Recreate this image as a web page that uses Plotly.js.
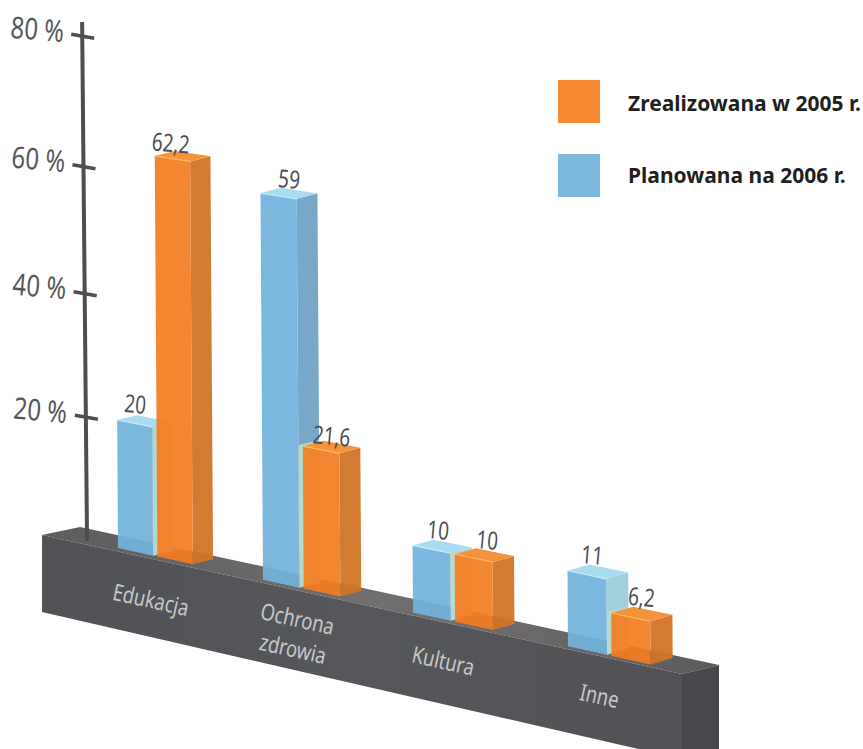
<!DOCTYPE html>
<html><head><meta charset="utf-8">
<script src="https://cdn.plot.ly/plotly-3.0.1.min.js"></script>
<style>html,body{margin:0;padding:0;background:#fff}#c{width:863px;height:749px}</style>
</head><body><div id="c"></div>
<script>
// ---- data ----
const categories = ['Edukacja', 'Ochrona<br>zdrowia', 'Kultura', 'Inne'];
const planned2006 = [20, 59, 10, 11];
const realized2005 = [62.2, 21.6, 10, 6.2];
const plannedLabels = ['20', '59', '10', '11'];
const realizedLabels = ['62,2', '21,6', '10', '6,2'];
const axisTicks = [20, 40, 60, 80];
const axisTickLabels = ['20 %', '40 %', '60 %', '80 %'];
const seriesNames = ['Zrealizowana w 2005 r.', 'Planowana na 2006 r.'];

// ---- perspective projection of the drawing ----
const BAR_WIDTH = 0.245, SERIES_STEP = 0.275;
const posX = t => 118 + 145 * t + 2.5 * t * (t - 1);
const groundY = x => 548 + 0.2186 * (x - 118);
const unitH = x => 6.4 + 0.00105 * (x - 118);
function project(t, depth, v) {
  const x = posX(t), y = groundY(x), h = v * unitH(x);
  return [x + (19.5 + 0.004 * x) * depth - 0.0065 * h, y - (4.5 + 0.003 * x) * depth - h];
}
function polys(list) {           // list of point-lists -> x/y with gaps
  const xs = [], ys = [];
  list.forEach(p => { p.concat([p[0]]).forEach(q => { xs.push(q[0]); ys.push(q[1]); }); xs.push(null); ys.push(null); });
  return { x: xs, y: ys };
}
const fillTrace = (list, color) => Object.assign(polys(list), { type: 'scatter', mode: 'lines', fill: 'toself', fillcolor: color, line: { width: 0, color: color }, hoverinfo: 'skip', showlegend: false });
const lineTrace = (pts, color, w) => ({ type: 'scatter', mode: 'lines', x: pts.map(p => p[0]), y: pts.map(p => p[1]), line: { color: color, width: w }, hoverinfo: 'skip', showlegend: false });
const front = (t, v) => [project(t, 0, 0), project(t + BAR_WIDTH, 0, 0), project(t + BAR_WIDTH, 0, v), project(t, 0, v)];
const side = (t, v) => [project(t + BAR_WIDTH, 0, 0), project(t + BAR_WIDTH, 1, 0), project(t + BAR_WIDTH, 1, v), project(t + BAR_WIDTH, 0, v)];
const top_ = (t, v) => [project(t, 0, v), project(t + BAR_WIDTH, 0, v), project(t + BAR_WIDTH, 1, v), project(t, 1, v)];

const traces = [];
// platform
const FL = [42, 535], FR = [682, 674], BR = [719, 665], BL = [80, 527], FB = [682, 759], LB = [42, 612], RB = [719, 751];
const gradient = stops => ({ type: 'horizontal', colorscale: stops });
traces.push(Object.assign(fillTrace([[FL, BL, BR, FR]], '#69696a'), { fillgradient: gradient([[0, '#5d5d5e'], [0.5, '#716f6e'], [0.85, '#666565'], [1, '#5a5a5c']]) }));
traces.push(Object.assign(fillTrace([[FL, FR, FB, LB]], '#535457'), { fillgradient: gradient([[0, '#515255'], [0.5, '#56575a'], [1, '#515255']]) }));
traces.push(fillTrace([[FR, BR, RB, FB]], '#47484b'));

// value axis
const tickY = v => 537 - (5.9 * v + 0.0045 * v * v);
const axisX = y => 87 - 0.0095 * (537 - y);
traces.push(lineTrace([[axisX(541), 541], [axisX(22), 22]], '#4c4e52', 4));
axisTicks.forEach(v => { const y = tickY(v), x = axisX(y); traces.push(lineTrace([[x - 11, y - 2], [x + 12, y + 2]], '#4c4e52', 3.5)); });

// bars
const idx = categories.map((_, i) => i);
const blueT = i => i, orangeT = i => i + SERIES_STEP;
const blueSideColors = ['rgba(112,163,198,0.95)', 'rgba(112,163,198,0.95)', 'rgba(150,200,215,0.95)', 'rgba(158,203,220,0.95)'];
idx.forEach(i => traces.push(fillTrace([side(blueT(i), planned2006[i])], blueSideColors[i])));
traces.push(fillTrace(idx.map(i => side(blueT(i), Math.min(planned2006[i], realized2005[i]))), 'rgba(182,218,205,0.95)'));
traces.push(fillTrace(idx.map(i => top_(blueT(i), planned2006[i])), '#aadcf1'));
traces.push(Object.assign(fillTrace(idx.map(i => front(blueT(i), planned2006[i])), 'rgba(114,179,220,0.93)'), { name: seriesNames[1] }));
idx.forEach(i => traces.push(lineTrace([project(blueT(i), 0, planned2006[i]), project(blueT(i) + BAR_WIDTH, 0, planned2006[i])], '#c4ecfa', 1.2)));
traces.push(fillTrace(idx.map(i => side(orangeT(i), realized2005[i])), 'rgba(209,116,38,0.95)'));
traces.push(fillTrace(idx.map(i => top_(orangeT(i), realized2005[i])), '#f5923a'));
traces.push(Object.assign(fillTrace(idx.map(i => front(orangeT(i), realized2005[i])), 'rgba(244,125,33,0.93)'), { name: seriesNames[0] }));
idx.forEach(i => traces.push(lineTrace([project(orangeT(i), 0, realized2005[i]), project(orangeT(i) + BAR_WIDTH, 0, realized2005[i])], '#fdb95f', 1.2)));

// annotations
const BODY = '"Noto Sans",sans-serif';
const squeezes = [];
const annotations = [];
function note(x, y, text, size, color, angle, squeeze) {
  annotations.push({ x: x, y: y, xref: 'x', yref: 'y', text: text, showarrow: false, xanchor: 'center', yanchor: 'middle', textangle: angle, font: { family: BODY, size: size, color: color } });
  squeezes.push(squeeze);
}
axisTicks.forEach((v, i) => { const y = tickY(v); note(axisX(y) - 45, y - 8, axisTickLabels[i], 30, '#55575b', 5, 0.8); });
const blueOff = [[-2, -12], [8, -10], [5, -11], [3, -11]];
const orangeOff = [[-4, -9], [8, -6], [11, -9], [8, -11]];
idx.forEach(i => {
  let a = project(blueT(i), 1, planned2006[i]);
  note(a[0] + blueOff[i][0], a[1] + blueOff[i][1], plannedLabels[i], 25, '#4d4f53', 5, 0.76);
  a = project(orangeT(i), 1, realized2005[i]);
  note(a[0] + orangeOff[i][0], a[1] + orangeOff[i][1], realizedLabels[i], 25, '#4d4f53', 5, 0.76);
});
const catPos = [[151, 599], [297, 618], [443, 660], [599, 695]];
idx.forEach(i => categories[i].split('<br>').forEach((line, j) => note(catPos[i][0] - 4 * j, catPos[i][1] + 30 * j, line, 23, '#c6c7c9', 12.5, 0.8)));
const legendFont = { family: BODY, size: 21, color: '#231f20' };
[103, 175].forEach((y, i) => {
  annotations.push({ x: 626, y: y, xref: 'x', yref: 'y', text: '<b>' + seriesNames[i] + '</b>', showarrow: false, xanchor: 'left', yanchor: 'middle', font: legendFont });
  squeezes.push(1);
});

const shapes = [
  { type: 'rect', xref: 'x', yref: 'y', x0: 558, x1: 600, y0: 80, y1: 123, fillcolor: '#f68832', line: { width: 0 } },
  { type: 'rect', xref: 'x', yref: 'y', x0: 558, x1: 600, y0: 154, y1: 197, fillcolor: '#7eb8dd', line: { width: 0 } }
];

Plotly.newPlot('c', traces, {
  width: 863, height: 749, margin: { l: 0, r: 0, t: 0, b: 0 },
  paper_bgcolor: '#fff', plot_bgcolor: '#fff', showlegend: false,
  xaxis: { range: [0, 863], visible: false, fixedrange: true },
  yaxis: { range: [749, 0], visible: false, fixedrange: true },
  annotations: annotations, shapes: shapes
}, { displayModeBar: false, staticPlot: true }).then(() => {
  // the reference uses a condensed face: narrow the real text to match
  document.querySelectorAll('#c .annotation-text').forEach((t, i) => {
    if (squeezes[i] !== 1) {
      t.setAttribute('textLength', (t.getComputedTextLength() * squeezes[i]).toFixed(1));
      t.setAttribute('lengthAdjust', 'spacingAndGlyphs');
    }
  });
});
</script></body></html>
